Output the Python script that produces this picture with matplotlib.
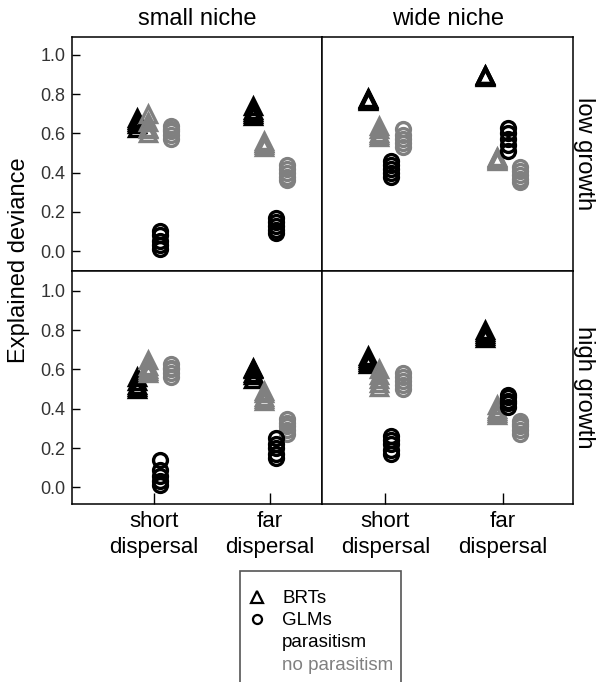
import matplotlib.pyplot as plt
from matplotlib.patches import Rectangle
from matplotlib.lines import Line2D

plt.rcParams['font.family'] = ['Liberation Sans', 'DejaVu Sans']

niches = ["small niche", "wide niche"]
growths = ["low growth", "high growth"]
dispersal = ["short\ndispersal", "far\ndispersal"]
y_ticks = [0.0, 0.2, 0.4, 0.6, 0.8, 1.0]

# explained deviance per replicate: (short dispersal, far dispersal)
brt_par = {
    ("small niche", "low growth"): ([0.63, 0.65, 0.66, 0.67, 0.68], [0.69, 0.70, 0.71, 0.72, 0.74]),
    ("wide niche", "low growth"): ([0.765, 0.77, 0.775, 0.775, 0.78], [0.89, 0.895, 0.895, 0.90, 0.90]),
    ("small niche", "high growth"): ([0.50, 0.51, 0.52, 0.54, 0.56], [0.55, 0.57, 0.58, 0.60, 0.61]),
    ("wide niche", "high growth"): ([0.63, 0.64, 0.65, 0.66, 0.67], [0.76, 0.77, 0.78, 0.79, 0.80]),
}
brt_nopar = {
    ("small niche", "low growth"): ([0.60, 0.62, 0.63, 0.66, 0.70], [0.53, 0.54, 0.55, 0.55, 0.56]),
    ("wide niche", "low growth"): ([0.58, 0.59, 0.60, 0.62, 0.64], [0.46, 0.465, 0.47, 0.475, 0.48]),
    ("small niche", "high growth"): ([0.58, 0.59, 0.60, 0.62, 0.65], [0.44, 0.45, 0.46, 0.48, 0.49]),
    ("wide niche", "high growth"): ([0.51, 0.53, 0.55, 0.57, 0.60], [0.37, 0.38, 0.39, 0.40, 0.42]),
}
glm_par = {
    ("small niche", "low growth"): ([0.01, 0.03, 0.05, 0.08, 0.10], [0.09, 0.11, 0.13, 0.15, 0.17]),
    ("wide niche", "low growth"): ([0.38, 0.40, 0.42, 0.44, 0.46], [0.51, 0.54, 0.57, 0.60, 0.63]),
    ("small niche", "high growth"): ([0.01, 0.03, 0.06, 0.09, 0.14], [0.15, 0.17, 0.20, 0.22, 0.25]),
    ("wide niche", "high growth"): ([0.17, 0.19, 0.22, 0.24, 0.26], [0.41, 0.43, 0.44, 0.46, 0.47]),
}
glm_nopar = {
    ("small niche", "low growth"): ([0.57, 0.59, 0.61, 0.62, 0.64], [0.36, 0.38, 0.40, 0.42, 0.44]),
    ("wide niche", "low growth"): ([0.53, 0.55, 0.57, 0.59, 0.62], [0.35, 0.37, 0.39, 0.41, 0.43]),
    ("small niche", "high growth"): ([0.56, 0.58, 0.60, 0.61, 0.63], [0.27, 0.29, 0.31, 0.33, 0.35]),
    ("wide niche", "high growth"): ([0.50, 0.52, 0.54, 0.56, 0.58], [0.27, 0.29, 0.31, 0.32, 0.34]),
}

BLACK = "#000000"
GREY = "#808080"

# (data, colour, marker, size, x offset)
series = [
    (brt_par, BLACK, "^", 12, -0.15),
    (brt_nopar, GREY, "^", 12, -0.05),
    (glm_nopar, GREY, "o", 10, 0.15),
    (glm_par, BLACK, "o", 10, 0.05),
]

W, H = 599, 682
fig = plt.figure(figsize=(W / 100, H / 100), dpi=100)

def fx(px):
    return px / W

def fy(py):
    return 1 - py / H

col_px = [(72.3, 322.3), (322.3, 573.3)]
row_px = [(36.5, 270.7), (270.7, 504.0)]
xlims = {"small niche": (0.296, 2.451), "wide niche": (0.4625, 2.604)}
ylims = {"low growth": (-0.1, 1.094), "high growth": (-0.085, 1.103)}

for r, growth in enumerate(growths):
    for c, niche in enumerate(niches):
        x0, x1 = col_px[c]
        y0, y1 = row_px[r]
        ax = fig.add_axes([fx(x0), fy(y1), (x1 - x0) / W, (y1 - y0) / H])
        for data, color, marker, ms, off in series:
            for d, vals in enumerate(data[(niche, growth)]):
                ax.plot([d + 1 + off] * len(vals), vals, linestyle="none",
                        marker=marker, markersize=ms, markerfacecolor="none",
                        markeredgecolor=color, markeredgewidth=2.4)
        ax.set_xlim(*xlims[niche])
        ax.set_ylim(*ylims[growth])
        for s in ax.spines.values():
            s.set_linewidth(1.1)
        if c == 0:
            ax.set_yticks(y_ticks)
            ax.set_yticklabels(["%.1f" % v for v in y_ticks])
            ax.tick_params(axis="y", direction="in", length=6, width=1,
                           labelsize=13, pad=5, labelcolor="#333333")
        else:
            ax.set_yticks([])
        if r == 1:
            ax.set_xticks([1, 2])
            ax.set_xticklabels(dispersal, linespacing=1.3)
            ax.tick_params(axis="x", direction="in", length=8, width=1,
                           labelsize=16, pad=5)
        else:
            ax.set_xticks([])

# strip labels
for c, niche in enumerate(niches):
    x0, x1 = col_px[c]
    fig.text(fx((x0 + x1) / 2), fy(19), niche, ha="center", va="center", fontsize=17)
for r, growth in enumerate(growths):
    y0, y1 = row_px[r]
    fig.text(fx(584), fy((y0 + y1) / 2), growth, ha="center", va="center",
             rotation=270, fontsize=17)

fig.text(fx(19), fy(260), "Explained deviance", ha="center", va="center",
         rotation=90, fontsize=17)

# legend box (runs off the bottom of the figure)
fig.patches.append(Rectangle((fx(240), fy(700)), (401 - 240) / W, (700 - 571) / H,
                             transform=fig.transFigure, fill=False,
                             edgecolor="#555555", linewidth=1.2))
fig.add_artist(Line2D([fx(256.5)], [fy(597)], marker="^", markersize=8,
                      markerfacecolor="none", markeredgecolor=BLACK,
                      markeredgewidth=1.6, transform=fig.transFigure))
fig.add_artist(Line2D([fx(256.5)], [fy(619)], marker="o", markersize=6.5,
                      markerfacecolor="none", markeredgecolor=BLACK,
                      markeredgewidth=1.6, transform=fig.transFigure))
legend_rows = [("BRTs", BLACK, 603), ("GLMs", BLACK, 625),
               ("parasitism", BLACK, 647), ("no parasitism", GREY, 670)]
for label, color, base in legend_rows:
    fig.text(fx(282), fy(base), label, ha="left", va="baseline",
             fontsize=13.5, color=color)

fig.savefig("out.png", dpi=100)
